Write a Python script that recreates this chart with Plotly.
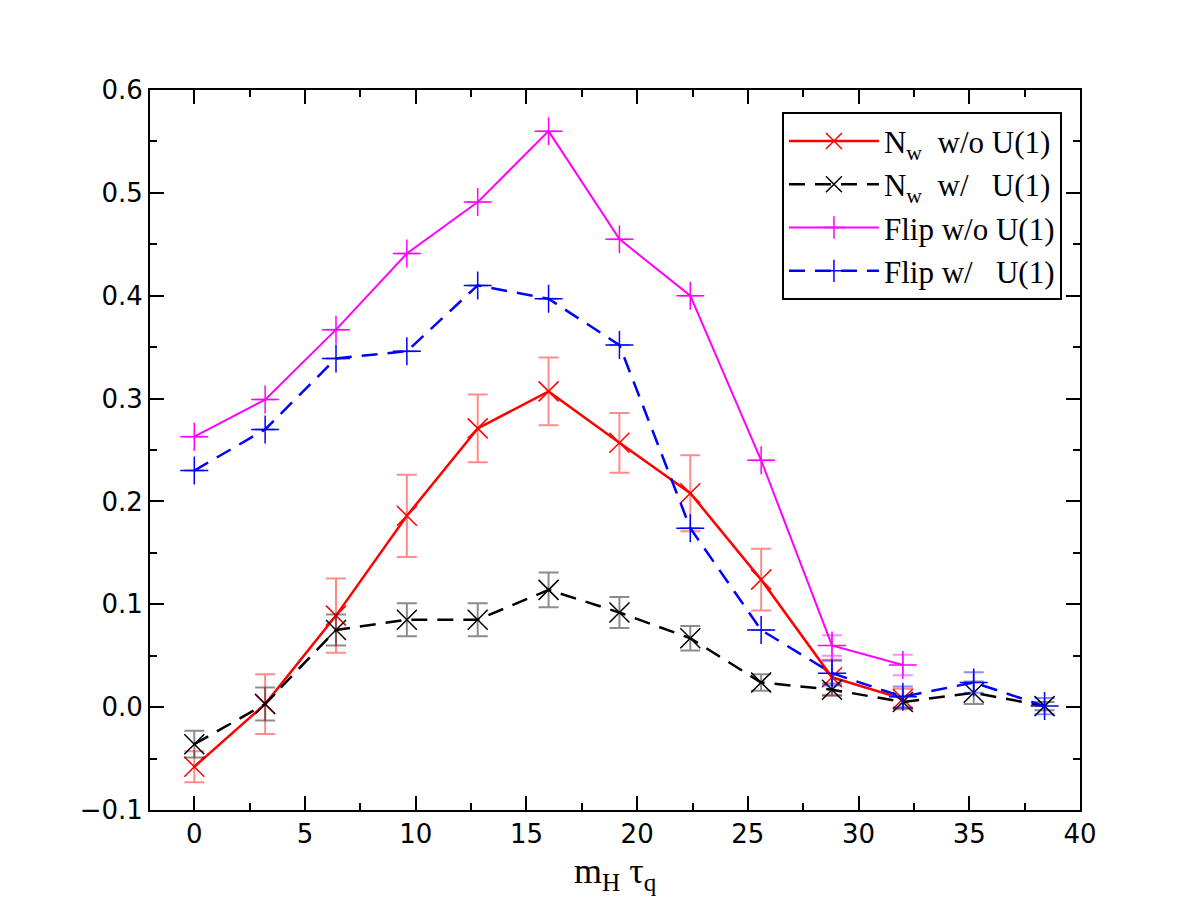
import plotly.graph_objects as go

x_all = [0, 3.2, 6.4, 9.6, 12.8, 16, 19.2, 22.4, 25.6, 28.8, 32, 35.2, 38.4]

# N_w w/o U(1)
x_red = x_all[:11]
y_red = [-0.058, 0.003, 0.089, 0.186, 0.271, 0.307, 0.257, 0.208, 0.124, 0.029, 0.008]
e_red = [0.015, 0.029, 0.036, 0.040, 0.033, 0.033, 0.029, 0.037, 0.030, 0.017, 0.010]

# N_w w/ U(1)
x_blk = x_all
y_blk = [-0.036, 0.003, 0.075, 0.085, 0.085, 0.114, 0.092, 0.067, 0.024, 0.017, 0.005, 0.014, 0.001]
e_blk = [0.013, 0.016, 0.015, 0.016, 0.016, 0.017, 0.015, 0.012, 0.008, 0.006, 0.006, 0.011, 0.004]

# Flip w/o U(1)
x_mag = x_all[:11]
y_mag = [0.263, 0.299, 0.367, 0.441, 0.491, 0.560, 0.455, 0.400, 0.240, 0.060, 0.041]
e_mag = [0, 0, 0, 0, 0, 0, 0, 0, 0, 0.010, 0.010]

# Flip w/ U(1)
x_blu = x_all
y_blu = [0.230, 0.270, 0.339, 0.346, 0.410, 0.397, 0.352, 0.174, 0.075, 0.033, 0.010, 0.024, 0.001]
e_blu = [0, 0, 0, 0, 0, 0, 0, 0, 0, 0.012, 0.010, 0.010, 0.008]

series = [
    dict(x=x_red, y=y_red, e=e_red, name="N<sub>w</sub>  w/o U(1)", color="red",
         ecolor="rgba(255,0,0,0.45)", dash="solid", symbol="x-thin-open", width=2.5),
    dict(x=x_blk, y=y_blk, e=e_blk, name="N<sub>w</sub>  w/   U(1)", color="black",
         ecolor="rgba(0,0,0,0.45)", dash="16px,10px", symbol="x-thin-open", width=2.5),
    dict(x=x_mag, y=y_mag, e=e_mag, name="Flip w/o U(1)", color="magenta",
         ecolor="rgba(255,0,255,0.45)", dash="solid", symbol="cross-thin-open", width=2),
    dict(x=x_blu, y=y_blu, e=e_blu, name="Flip w/   U(1)", color="blue",
         ecolor="rgba(0,0,255,0.45)", dash="16px,10px", symbol="cross-thin-open", width=2.5),
]

fig = go.Figure()
for s in series:
    fig.add_trace(go.Scatter(
        x=s["x"], y=s["y"], name=s["name"], mode="lines+markers",
        line=dict(color=s["color"], width=s["width"], dash=s["dash"]),
        marker=dict(symbol=s["symbol"], size=20, color=s["color"],
                    line=dict(color=s["color"], width=1.5)),
        error_y=dict(type="data", array=s["e"], visible=True, color=s["ecolor"],
                     thickness=2, width=10),
    ))

axis_common = dict(
    showline=True, linecolor="black", linewidth=2, mirror="allticks",
    ticks="inside", ticklen=14, tickwidth=1.5, tickcolor="black",
    showgrid=False, zeroline=False,
    tickfont=dict(family="DejaVu Sans", size=26, color="black"),
)

fig.update_xaxes(range=[-2, 40], tick0=0, dtick=5,
                 minor=dict(dtick=2.5, ticks="inside", ticklen=7, tickwidth=1.5, tickcolor="black"),
                 **axis_common)
fig.update_yaxes(range=[-0.1, 0.6], tick0=0, dtick=0.1, tickformat=".1f",
                 minor=dict(dtick=0.05, ticks="inside", ticklen=7, tickwidth=1.5, tickcolor="black"),
                 **axis_common)

fig.add_annotation(
    text="m<sub>H</sub> τ<sub>q</sub>", xref="paper", yref="paper",
    x=0.5, y=-0.088, xanchor="center", yanchor="middle", showarrow=False,
    font=dict(family="Liberation Serif", size=36, color="black"),
)

fig.update_layout(
    width=1200, height=900,
    paper_bgcolor="white", plot_bgcolor="white",
    margin=dict(l=150, r=120, t=90, b=90),
    showlegend=True,
    legend=dict(x=0.9806, y=0.969, xanchor="right", yanchor="top",
                bordercolor="black", borderwidth=2, bgcolor="white",
                font=dict(family="Liberation Serif", size=31, color="black"),
                tracegroupgap=0, itemwidth=90),
)

fig.write_html("out.html")
